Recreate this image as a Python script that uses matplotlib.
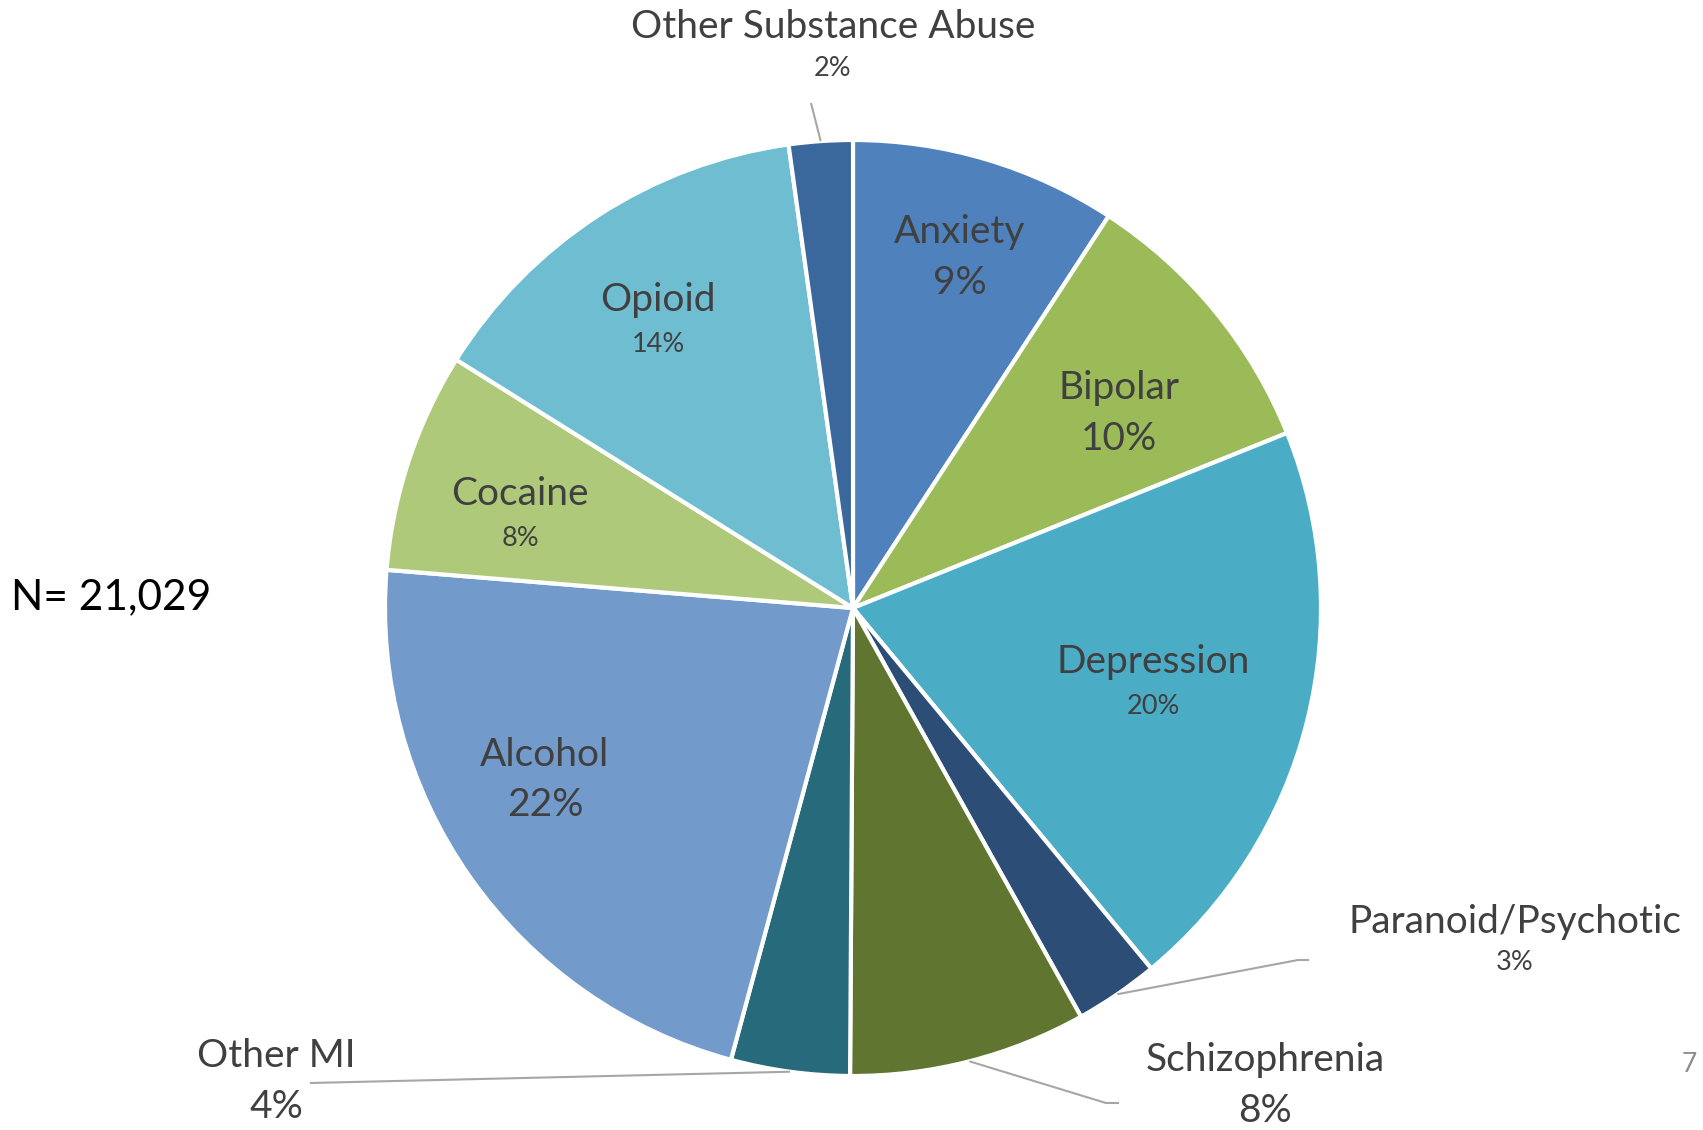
import matplotlib
matplotlib.use("Agg")
import matplotlib.pyplot as plt
import numpy as np

# slice data, clockwise from 12 o'clock
categories = ["Anxiety", "Bipolar", "Depression", "Paranoid/Psychotic",
              "Schizophrenia", "Other MI", "Alcohol", "Cocaine", "Opioid",
              "Other Substance Abuse"]
shares = [9.2, 9.7, 20.1, 2.9, 8.2, 4.1, 22.1, 7.6, 13.9, 2.2]
total_n = "21,029"
page_number = "7"

colors = ["#4F81BD", "#9BBB59", "#4BACC6", "#2C4D75", "#5F7530",
          "#276A7C", "#729ACA", "#AFC97A", "#6FBDD1", "#3A679C"]

# label layout (pixel coords, y from top)
big_pct = [True, True, False, False, True, True, True, False, False, False]
inside_pos = {0: (960, 257), 1: (1119, 413), 2: (1153, 684),
              6: (545, 780), 7: (520, 516), 8: (658, 322)}
outside_pos = {
    3: ((1515, 922), (1515, 962), (1309, 960), (1298, 960)),
    4: ((1265, 1060), (1265, 1111), (1119, 1103), (1106, 1103)),
    5: ((276, 1056), (276, 1107), (310, 1083), (310, 1083)),
    9: ((833, 27), (833, 69), (811, 103), (811, 103)),
}

W, H = 1703, 1130
plt.rcParams["font.family"] = ["Lato", "DejaVu Sans"]
txt_color = "#404040"
name_size = 28
pct_small = 19.5

fig = plt.figure(figsize=(W / 100, H / 100), dpi=100)
ax = fig.add_axes([0, 0, 1, 1])

cx, cy, R = 853, H - 608, 468
wedges, _ = ax.pie(shares, colors=colors, startangle=90, counterclock=False,
                   center=(cx, cy), radius=R,
                   wedgeprops=dict(edgecolor="white", linewidth=3))
ax.set_xlim(0, W)
ax.set_ylim(0, H)
ax.set_aspect("equal")
ax.axis("off")

for i, (w, name, v) in enumerate(zip(wedges, categories, shares)):
    pct = f"{round(v)}%"
    psize = name_size if big_pct[i] else pct_small
    if i in inside_pos:
        x, y = inside_pos[i]
        y = H - y
        gap = 51 if big_pct[i] else 44
        ax.text(x, y + gap / 2, name, fontsize=name_size, color=txt_color,
                ha="center", va="center")
        ax.text(x, y - gap / 2, pct, fontsize=psize, color=txt_color,
                ha="center", va="center")
    else:
        npos, ppos, elbow, end = outside_pos[i]
        ax.text(npos[0], H - npos[1], name, fontsize=name_size,
                color=txt_color, ha="center", va="center")
        ax.text(ppos[0], H - ppos[1], pct, fontsize=psize,
                color=txt_color, ha="center", va="center")
        # leader line from the middle of the wedge's outer edge
        theta = np.deg2rad((w.theta1 + w.theta2) / 2)
        sx, sy = cx + R * np.cos(theta), cy + R * np.sin(theta)
        ax.plot([sx, end[0], elbow[0]], [sy, H - end[1], H - elbow[1]],
                color="#A6A6A6", lw=1.5, solid_capstyle="butt")

ax.text(11, H - 597, f"N= {total_n}", fontsize=30.5, color="black",
        ha="left", va="center")
ax.text(1689, H - 1065, page_number, fontsize=19, color="#8C8C8C",
        ha="center", va="center")

fig.savefig("out.png", dpi=100)
